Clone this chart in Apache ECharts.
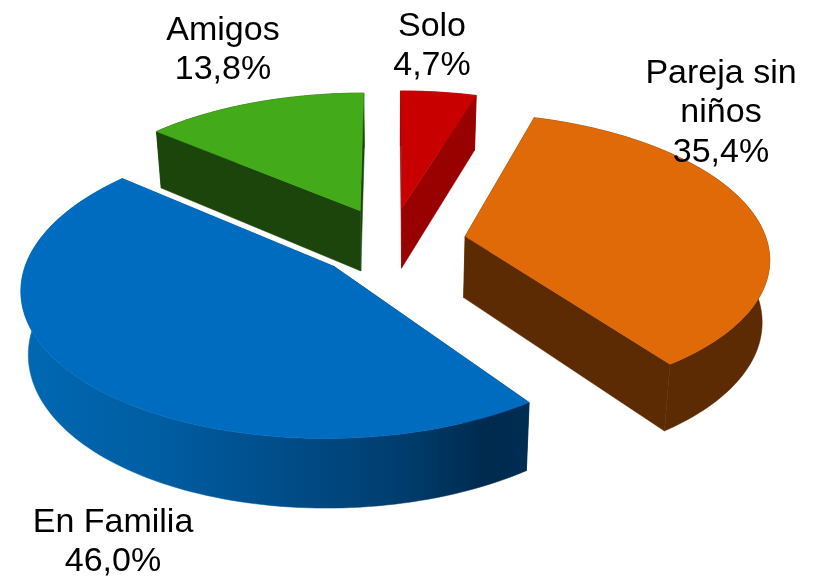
<!DOCTYPE html>
<html><head><meta charset="utf-8">
<style>html,body{margin:0;padding:0;background:#fff}#c{width:813px;height:577px}</style>
<script src="https://cdn.jsdelivr.net/npm/echarts@6/dist/echarts.min.js"></script>
</head><body><div id="c"></div>
<script>
const categories = ['Solo', 'Pareja sin niños', 'En Familia', 'Amigos'];
const values = [4.7, 35.4, 46.0, 13.8];
const labels = ['4,7%', '35,4%', '46,0%', '13,8%'];
const topColors = ['#c80000', '#e06a08', '#006cbf', '#43aa1a'];
const wallColors = ['#990000', '#5c2a03', null, '#1b450a'];
const depthOrder = [2, 3, 4, 1];
const labelLines = [['Solo', '4,7%'], ['Pareja sin', 'niños', '35,4%'], ['En Familia', '46,0%'], ['Amigos', '13,8%']];
const labelAnchors = [[432, 46], [721, 113], [113, 542], [223, 50]];

// projection settings
const P = {cx: 391, cy: 242, a: 302, b: 141.5, k: 0.135, hk: 0.1, explode: 0.25, h: 61.5, shrink: 0.98};
const total = values.reduce((s, v) => s + v, 0);

function project(X, Y, bottom) {
  const f = 1 / (1 - P.k * Y);
  let x = P.a * X * f, y = P.b * Y * f;
  if (bottom) { x *= P.shrink; y += P.h / (1 - P.hk * Y); }
  return [P.cx + x, P.cy + y];
}
function sliceGeom(i) {
  let before = 0;
  for (let j = 0; j < i; j++) before += values[j];
  const a0 = before / total * 2 * Math.PI;
  const a1 = (before + values[i]) / total * 2 * Math.PI;
  const m = (a0 + a1) / 2;
  const ox = P.explode * Math.sin(m), oy = -P.explode * Math.cos(m);
  const rim = [];
  const n = Math.max(8, Math.round((a1 - a0) * 40));
  for (let s = 0; s <= n; s++) {
    const t = a0 + (a1 - a0) * s / n;
    rim.push([ox + Math.sin(t), oy - Math.cos(t)]);
  }
  return {apex: [ox, oy], rim};
}
const blueWall = {type: 'linear', x: 25, y: 0, x2: 527, y2: 0, global: true, colorStops: [
  {offset: 0, color: '#0068b2'}, {offset: 0.25, color: '#005ea3'}, {offset: 0.5, color: '#004e8b'},
  {offset: 0.75, color: '#003d6e'}, {offset: 0.92, color: '#002a4e'}, {offset: 1, color: '#002d53'}]};

function renderItem(params) {
  const i = params.dataIndex;
  const g = sliceGeom(i);
  const top = p => project(p[0], p[1], false);
  const bot = p => project(p[0], p[1], true);
  const wall = wallColors[i] || blueWall;
  const kids = [];
  const poly = (pts, fill) => kids.push({type: 'polygon', shape: {points: pts},
    style: {fill: fill, stroke: fill, lineWidth: 0.5}});
  const first = g.rim[0], last = g.rim[g.rim.length - 1];
  poly([top(g.apex), top(first), bot(first), bot(g.apex)], wall);
  poly([top(g.apex), top(last), bot(last), bot(g.apex)], wall);
  poly(g.rim.map(top).concat(g.rim.slice().reverse().map(bot)), wall);
  poly([top(g.apex)].concat(g.rim.map(top)), topColors[i]);
  const L = labelLines[i], A = labelAnchors[i], lh = 39.5;
  L.forEach((t, k) => kids.push({type: 'text', z2: 10, style: {
    text: t, x: A[0], y: A[1] + (k - (L.length - 1) / 2) * lh, align: 'center', verticalAlign: 'middle',
    font: '34px "Liberation Sans", Arial, sans-serif', fill: '#000'}}));
  return {type: 'group', z2: depthOrder[i], children: kids.map(c => ({...c, z2: (c.z2 || 0) + depthOrder[i] * 20}))};
}

const chart = echarts.init(document.getElementById('c'), null, {renderer: 'canvas'});
chart.setOption({
  animation: false,
  backgroundColor: '#fff',
  series: [{
    type: 'custom',
    coordinateSystem: 'none',
    renderItem,
    silent: true,
    data: categories.map((c, i) => ({name: c, value: values[i]}))
  }]
});
</script></body></html>
